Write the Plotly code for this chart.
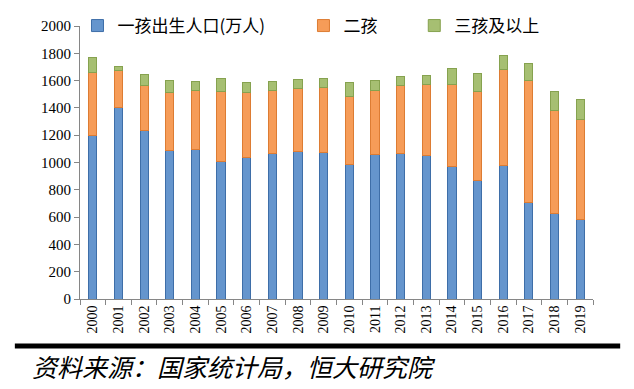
import plotly.graph_objects as go

years = [str(y) for y in range(2000, 2020)]
first_child = [1200, 1400, 1232, 1090, 1098, 1010, 1034, 1066, 1078, 1076,
               983, 1059, 1063, 1049, 968, 871, 976, 705, 627, 585]
second_child = [463, 271, 334, 422, 431, 507, 476, 463, 463, 470,
                497, 465, 498, 522, 605, 651, 709, 897, 756, 732]
third_plus = [105, 34, 80, 90, 66, 100, 78, 66, 69, 71,
              108, 78, 71, 68, 117, 132, 100, 125, 139, 146]

names = ["一孩出生人口(万人)", "二孩", "三孩及以上"]
fills = ["#6595CD", "#F69C58", "#A6BF72"]
edges = ["#3E6EA8", "#DD7C33", "#86A24F"]
legend_ids = ["legend", "legend2", "legend3"]

fig = go.Figure()
for i, (vals, nm) in enumerate(zip([first_child, second_child, third_plus], names)):
    fig.add_trace(go.Bar(
        x=years, y=vals, name=nm,
        marker=dict(color=fills[i], line=dict(color=edges[i], width=1)),
        legend=legend_ids[i], showlegend=True,
    ))

def leg(x):
    return dict(orientation="h", yanchor="top", xanchor="left",
                xref="container", yref="container", x=x, y=1.0,
                font=dict(family="Noto Sans CJK SC", size=17, color="#000"),
                bgcolor="rgba(0,0,0,0)", itemwidth=30)

# page body adds an 8px margin, so the figure is laid out 8px smaller
fig.update_layout(
    width=626, height=381,
    margin=dict(l=72, r=41, t=18, b=90, autoexpand=False),
    barmode="stack", bargap=0.68,
    plot_bgcolor="white", paper_bgcolor="white",
    legend=leg(0.111),
    legend2=leg(0.472),
    legend3=leg(0.649),
    xaxis=dict(type="category", showgrid=False, showline=True, linecolor="#868686",
               ticks="outside", tickson="boundaries", ticklen=5, tickcolor="#868686",
               tickangle=-90, automargin=False,
               tickfont=dict(family="Liberation Serif", size=14, color="#000")),
    yaxis=dict(range=[0, 2000], dtick=200, showgrid=False, showline=True,
               linecolor="#868686", ticks="outside", ticklen=5, tickcolor="#868686",
               zeroline=False, automargin=False,
               tickfont=dict(family="Liberation Serif", size=15, color="#000")),
    shapes=[dict(type="line", xref="paper", yref="paper",
                 x0=-0.127, x1=1.053, y0=-0.172, y1=-0.172,
                 line=dict(color="black", width=5))],
    annotations=[dict(text="资料来源：国家统计局，恒大研究院", xref="paper", yref="paper",
                      x=-0.097, y=-0.245, xanchor="left", yanchor="middle", showarrow=False,
                      font=dict(family="Noto Sans CJK SC", size=25, color="#000",
                                style="italic"))],
)

fig.write_html("out.html")
